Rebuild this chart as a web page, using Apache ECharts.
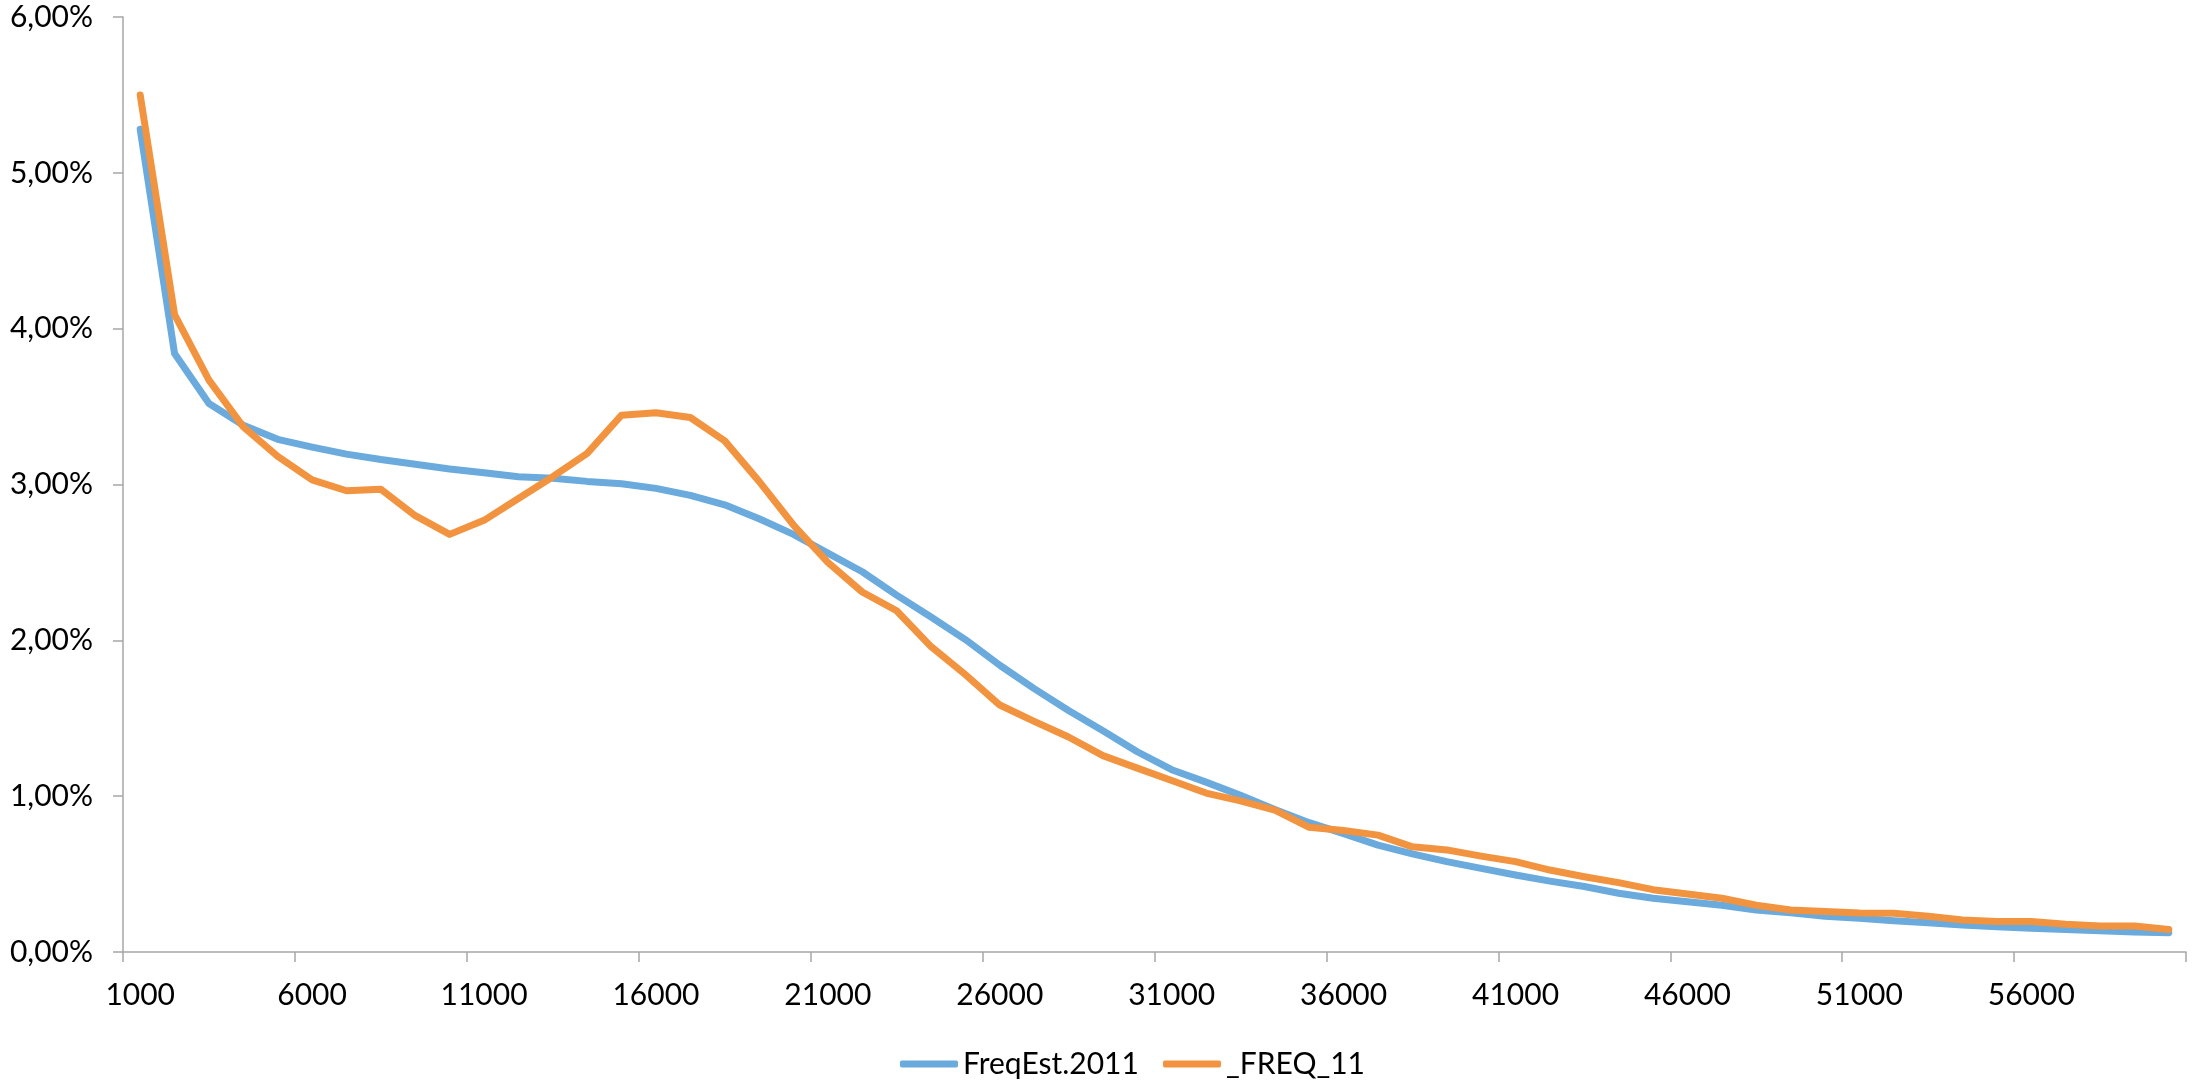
<!DOCTYPE html>
<html>
<head>
<meta charset="utf-8">
<script src="https://cdn.jsdelivr.net/npm/echarts@6/dist/echarts.min.js"></script>
<style>
  html, body { margin: 0; padding: 0; background: #ffffff; }
  #chart { width: 2194px; height: 1081px; }
</style>
</head>
<body>
<div id="chart"></div>
<script>
// Income classes (category labels, step 1000)
const categories = [
  '1000','2000','3000','4000','5000','6000','7000','8000','9000','10000',
  '11000','12000','13000','14000','15000','16000','17000','18000','19000','20000',
  '21000','22000','23000','24000','25000','26000','27000','28000','29000','30000',
  '31000','32000','33000','34000','35000','36000','37000','38000','39000','40000',
  '41000','42000','43000','44000','45000','46000','47000','48000','49000','50000',
  '51000','52000','53000','54000','55000','56000','57000','58000','59000','60000'
];

// Estimated frequency 2011 (percent)
const freqEst2011 = [
  5.28, 3.84, 3.52, 3.38, 3.29, 3.24, 3.195, 3.16, 3.13, 3.10,
  3.075, 3.05, 3.04, 3.02, 3.005, 2.975, 2.93, 2.87, 2.78, 2.68,
  2.56, 2.44, 2.29, 2.15, 2.005, 1.84, 1.69, 1.55, 1.42, 1.285,
  1.17, 1.09, 1.005, 0.915, 0.83, 0.76, 0.686, 0.63, 0.58, 0.537,
  0.494, 0.455, 0.42, 0.377, 0.345, 0.323, 0.30, 0.27, 0.252, 0.23,
  0.216, 0.20, 0.188, 0.173, 0.162, 0.152, 0.145, 0.137, 0.128, 0.124
];

// Observed frequency _FREQ_11 (percent)
const freq11 = [
  5.50, 4.09, 3.67, 3.37, 3.18, 3.03, 2.96, 2.97, 2.80, 2.68,
  2.77, 2.91, 3.05, 3.20, 3.445, 3.46, 3.43, 3.28, 3.02, 2.74,
  2.50, 2.31, 2.19, 1.96, 1.78, 1.585, 1.48, 1.38, 1.26, 1.18,
  1.10, 1.02, 0.97, 0.91, 0.80, 0.78, 0.75, 0.675, 0.655, 0.615,
  0.58, 0.526, 0.483, 0.445, 0.40, 0.372, 0.345, 0.30, 0.27, 0.26,
  0.25, 0.248, 0.23, 0.205, 0.195, 0.195, 0.178, 0.167, 0.167, 0.145
];

// Y axis: 0 % .. 6 % in steps of 1 %
const yMin = 0, yMax = 6, yStep = 1;

const FONT = "Lato, 'Open Sans', sans-serif";
const AXIS_GREY = '#a6a6a6';
const BLUE = '#6aaadc';
const ORANGE = '#f2933f';

const chart = echarts.init(document.getElementById('chart'), null, { renderer: 'canvas' });

const legendText = { fontFamily: FONT, fontSize: 30, color: '#000000' };

chart.setOption({
  animation: false,
  backgroundColor: '#ffffff',
  grid: { left: 123, right: 8, top: 17, bottom: 129, containLabel: false },
  legend: [
    {
      data: ['FreqEst.2011'], left: 895, top: 1044,
      icon: 'roundRect', itemWidth: 58, itemHeight: 7,
      textStyle: legendText
    },
    {
      data: ['_FREQ_11'], left: 1158, top: 1044,
      icon: 'roundRect', itemWidth: 58, itemHeight: 7,
      textStyle: legendText
    }
  ],
  xAxis: {
    type: 'category',
    data: categories,
    boundaryGap: true,
    axisLine: { lineStyle: { color: AXIS_GREY, width: 1.5 } },
    axisTick: { show: true, interval: 4, length: 10, lineStyle: { color: AXIS_GREY, width: 1.5 } },
    axisLabel: {
      interval: 4, margin: 28,
      fontFamily: FONT, fontSize: 30, color: '#000000'
    },
    splitLine: { show: false }
  },
  yAxis: {
    type: 'value',
    min: yMin, max: yMax, interval: yStep,
    axisLine: { show: true, lineStyle: { color: AXIS_GREY, width: 1.5 } },
    axisTick: { show: true, length: 10, lineStyle: { color: AXIS_GREY, width: 1.5 } },
    axisLabel: {
      margin: 30,
      fontFamily: FONT, fontSize: 30, color: '#000000',
      formatter: v => v.toFixed(2).replace('.', ',') + '%'
    },
    splitLine: { show: false }
  },
  series: [
    {
      name: 'FreqEst.2011', type: 'line', data: freqEst2011,
      showSymbol: false, symbol: 'none',
      itemStyle: { color: BLUE },
      lineStyle: { color: BLUE, width: 7, join: 'round', cap: 'round' }
    },
    {
      name: '_FREQ_11', type: 'line', data: freq11,
      showSymbol: false, symbol: 'none',
      itemStyle: { color: ORANGE },
      lineStyle: { color: ORANGE, width: 7, join: 'round', cap: 'round' }
    }
  ]
});
</script>
</body>
</html>
